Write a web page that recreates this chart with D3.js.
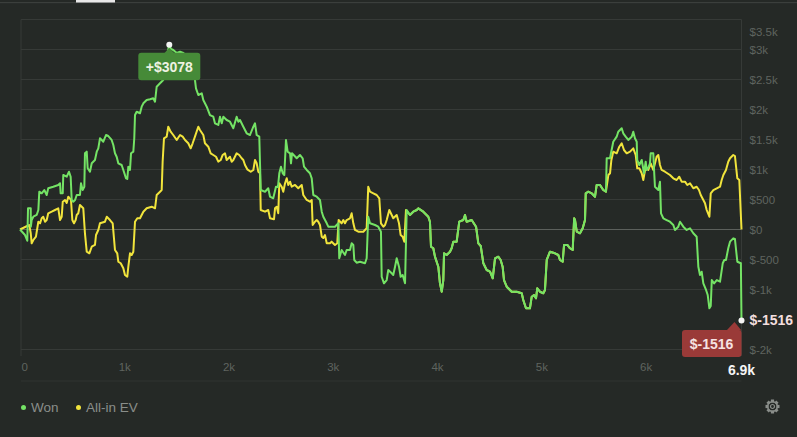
<!DOCTYPE html>
<html><head><meta charset="utf-8">
<script src="https://cdn.jsdelivr.net/npm/d3@7"></script>
<style>
html,body{margin:0;padding:0;background:#252926;}
svg{display:block;font-family:"Liberation Sans",Arial,sans-serif;}
</style></head>
<body><svg id="c" width="797" height="437"></svg>
<script>
const wonHands = [0,48,70,77,103,104,112,128,160,176,185,208,233,256,271,319,367,384,390,410,415,448,470,486,496,511,528,544,575,585,601,617,623,640,649,671,688,719,736,751,767,784,799,825,847,879,895,911,927,943,975,991,1017,1029,1039,1055,1065,1087,1096,1103,1119,1151,1167,1183,1215,1247,1278,1295,1311,1343,1374,1391,1410,1432,1448,1470,1503,1535,1560,1592,1630,1669,1678,1688,1710,1743,1758,1791,1822,1854,1870,1902,1918,1935,1950,1982,2014,2046,2078,2094,2110,2142,2174,2206,2238,2254,2270,2295,2309,2350,2381,2398,2429,2455,2474,2487,2503,2520,2535,2551,2567,2590,2599,2609,2654,2685,2711,2724,2750,2781,2798,2813,2846,2877,2894,2909,2942,2957,3021,3053,3062,3085,3117,3133,3165,3181,3197,3206,3229,3261,3309,3325,3340,3357,3405,3436,3462,3469,3491,3517,3532,3565,3580,3597,3613,3635,3651,3670,3693,3709,3740,3772,3805,3820,3868,3916,3932,3942,3964,3980,4012,4028,4045,4060,4067,4092,4124,4140,4156,4188,4213,4252,4268,4284,4332,4374,4396,4419,4444,4476,4508,4534,4556,4587,4610,4629,4642,4668,4716,4764,4812,4827,4853,4891,4908,4930,4949,4961,4987,5019,5035,5052,5083,5131,5163,5179,5205,5218,5250,5275,5301,5315,5323,5340,5371,5397,5419,5426,5451,5483,5515,5531,5563,5594,5620,5627,5659,5668,5684,5690,5723,5738,5771,5786,5809,5834,5867,5882,5898,5915,5920,5940,5963,5985,6001,6011,6026,6042,6049,6074,6083,6090,6122,6138,6148,6170,6202,6234,6266,6282,6314,6330,6362,6394,6426,6458,6490,6506,6522,6538,6554,6580,6596,6612,6625,6635,6657,6683,6714,6740,6755,6771,6793,6810,6841,6857,6880,6914,6920];
const wonValues = [0,-92,-187,353,353,47,158,213,242,325,630,603,658,575,687,713,742,770,603,603,908,880,963,880,492,463,492,575,575,770,658,713,1270,1297,1020,963,1103,1158,1297,1353,1520,1492,1463,1575,1558,1492,1408,1270,1213,1103,1075,992,853,842,1047,992,1270,1297,1520,1908,1963,1937,2047,2103,2158,2170,2187,2130,2380,2437,2492,2742,2908,3078,3008,2992,2942,2963,2947,2908,2825,2658,2492,2353,2242,2270,2158,2047,1908,1880,1770,1742,1880,1770,1880,1825,1797,1687,1880,1797,1825,1713,1603,1575,1713,1770,1575,1547,658,630,687,547,520,713,708,937,1047,937,908,1492,1297,1270,1103,1270,1187,1242,1187,1047,992,937,853,575,547,492,297,213,103,47,47,103,-480,-342,-425,-342,-342,-230,-258,-508,-553,-537,-563,-480,213,103,75,47,-37,-787,-897,-842,-675,-730,-758,-620,-480,-620,-787,-758,-897,325,242,297,325,353,297,213,130,-287,-313,-453,-620,-897,-1037,-842,-397,-425,-370,-313,-203,-203,130,158,242,130,158,47,-230,-275,-563,-675,-703,-813,-480,-453,-508,-620,-842,-953,-1037,-1037,-1063,-1175,-1313,-1313,-1120,-1092,-1147,-980,-1037,-1063,-1008,-508,-370,-397,-425,-508,-537,-258,-258,-313,-342,187,158,-37,-63,20,158,603,630,603,547,742,742,658,630,1187,1187,1270,1408,1463,1547,1630,1687,1603,1547,1492,1547,1630,1520,1463,1158,1075,1158,937,1130,992,1025,1103,1270,1270,937,713,658,797,270,187,158,130,75,-8,47,130,47,-8,20,-63,-120,-620,-758,-703,-897,-1008,-1092,-1313,-1275,-842,-897,-842,-870,-563,-508,-508,-313,-203,-147,-158,-537,-563,-1516];

const evHands = [0,89,103,112,128,153,176,192,208,223,240,256,271,304,336,367,384,400,410,432,448,463,489,502,518,534,544,559,575,607,623,640,665,688,719,729,751,767,815,832,863,889,911,933,943,966,991,1007,1029,1039,1055,1071,1087,1103,1125,1151,1167,1183,1215,1263,1295,1311,1343,1359,1368,1381,1407,1422,1445,1470,1503,1535,1560,1583,1614,1637,1656,1678,1710,1726,1758,1774,1806,1829,1854,1880,1902,1925,1944,1966,1982,2014,2030,2046,2078,2103,2126,2142,2158,2180,2213,2238,2254,2270,2286,2302,2309,2350,2381,2398,2436,2446,2462,2477,2487,2510,2525,2542,2558,2573,2590,2606,2638,2669,2702,2717,2750,2781,2798,2807,2829,2846,2861,2877,2894,2909,2925,2942,2973,2989,3021,3043,3056,3085,3101,3117,3133,3165,3181,3197,3213,3245,3293,3325,3340,3357,3389,3421,3446,3462,3485,3501,3517,3542,3565,3580,3613,3635,3651,3670,3686,3702,3740,3772,3805,3820,3868,3916,3932,3942,3964,3980,4012,4028,4045,4060,4067,4092,4124,4140,4156,4188,4213,4252,4268,4284,4332,4374,4396,4419,4444,4476,4508,4534,4556,4587,4610,4629,4642,4668,4716,4764,4812,4827,4853,4891,4908,4930,4949,4961,4987,5019,5035,5052,5083,5131,5163,5179,5205,5218,5250,5275,5301,5315,5323,5340,5371,5397,5419,5426,5451,5483,5515,5531,5563,5594,5620,5643,5659,5672,5690,5723,5748,5771,5793,5819,5851,5882,5905,5920,5940,5963,5978,6001,6026,6049,6074,6106,6122,6138,6154,6186,6234,6266,6298,6323,6346,6378,6400,6426,6458,6490,6512,6529,6554,6570,6586,6612,6625,6650,6683,6714,6730,6746,6771,6793,6810,6841,6857,6880,6899,6920];
const evValues = [0,75,-63,-230,-175,-120,130,103,187,213,130,158,270,297,325,353,158,213,463,492,442,547,492,158,103,158,242,270,408,353,-63,-370,-397,-287,-258,-92,-8,103,130,213,158,103,-342,-397,-537,-563,-647,-758,-787,-620,-397,-425,-370,130,187,187,242,297,353,380,353,575,630,658,1130,1520,1547,1713,1630,1575,1492,1575,1547,1492,1437,1353,1437,1547,1713,1658,1575,1437,1380,1270,1242,1213,1130,1158,1242,1270,1158,1213,1130,1158,1270,1242,1187,1158,1075,1003,963,992,1158,1103,963,937,325,297,325,187,170,353,380,270,770,713,630,770,853,742,797,713,742,687,742,575,492,463,492,75,130,158,130,75,-120,-142,-92,-230,-230,-203,-258,-230,158,103,158,103,158,187,270,103,-8,-37,-37,20,713,630,603,575,520,103,47,75,158,325,242,187,242,103,-92,-120,-203,325,242,297,325,353,297,213,130,-287,-313,-453,-620,-897,-1037,-842,-397,-425,-370,-313,-203,-203,130,158,242,130,158,47,-230,-275,-563,-675,-703,-813,-480,-453,-508,-620,-842,-953,-1037,-1037,-1063,-1175,-1313,-1313,-1120,-1092,-1147,-980,-1037,-1063,-1008,-508,-370,-397,-425,-508,-537,-258,-258,-313,-342,187,158,-37,-63,20,158,603,630,603,547,742,742,658,630,908,937,1158,1297,1270,1380,1437,1325,1270,1297,1353,1242,1020,1020,937,825,1047,992,1103,992,1213,1242,1075,992,963,908,853,825,880,797,797,742,770,687,713,658,575,492,437,325,213,603,658,687,713,825,908,992,1130,1187,1242,1225,853,825,0];

const yTickValues = [3500,3000,2500,2000,1500,1000,500,0,-500,-1000,-2000];
const yTickLabels = ["$3.5k","$3k","$2.5k","$2k","$1.5k","$1k","$500","$0","$-500","$-1k","$-2k"];
const xTickValues = [0,1000,2000,3000,4000,5000,6000];
const xTickLabels = ["0","1k","2k","3k","4k","5k","6k"];
const seriesNames = ["Won","All-in EV"];
const seriesColors = ["#74e365","#f1e43c"];
const totalHands = 6920;
const peakLabel = "+$3078";
const endLabel = "$-1516";
const endHandsLabel = "6.9k";

const svg = d3.select("#c");
const W = 797, H = 437;
const L = 21, R = 741.5, T = 19.5;
const x = d3.scaleLinear().domain([0,totalHands]).range([20,R]);
const y = d3.scaleLinear().domain([-2000,3500]).range([349.5,T]);

// top tab bar
svg.append("rect").attr("x",0).attr("y",2).attr("width",W).attr("height",1.2).attr("fill","#3b3f3c");
svg.append("rect").attr("x",76).attr("y",0).attr("width",39).attr("height",2.5).attr("fill","#e8e8e8");

// gridlines
svg.append("g").selectAll("line").data(yTickValues).join("line")
  .attr("x1",L).attr("x2",R).attr("y1",d=>y(d)).attr("y2",d=>y(d))
  .attr("stroke",d=>d===0?"#5c605c":"#363a37").attr("stroke-width",1);
// frame verticals
svg.append("line").attr("x1",L).attr("x2",L).attr("y1",T).attr("y2",356).attr("stroke","#363a37");
svg.append("line").attr("x1",R).attr("x2",R).attr("y1",T).attr("y2",356).attr("stroke","#363a37");
// bottom axis line
svg.append("line").attr("x1",L).attr("x2",R).attr("y1",381).attr("y2",381).attr("stroke","#303431");

// y axis (right)
const yAxis = d3.axisRight(y).tickValues(yTickValues).tickSize(0).tickPadding(0)
  .tickFormat((d,i)=>yTickLabels[i]);
const ya = svg.append("g").attr("transform",`translate(749.5,0)`).call(yAxis);
ya.select(".domain").remove();
ya.selectAll("text").attr("fill","#5f645f").attr("font-size","11.5px").attr("font-family","Liberation Sans, Arial, sans-serif");
ya.selectAll(".tick").filter(d=>d===3500).select("text").attr("dy","1.4em");

// x axis
const xAxis = d3.axisBottom(x).tickValues(xTickValues).tickSize(0).tickPadding(0)
  .tickFormat((d,i)=>xTickLabels[i]);
const xa = svg.append("g").attr("transform",`translate(0,363)`).call(xAxis);
xa.select(".domain").remove();
xa.selectAll("text").attr("fill","#5f645f").attr("font-size","11.5px").attr("font-family","Liberation Sans, Arial, sans-serif");
xa.selectAll(".tick").filter(d=>d===0).select("text").attr("text-anchor","start").attr("x",1);
svg.append("text").attr("x",x(totalHands)).attr("y",375).attr("text-anchor","middle")
  .attr("fill","#f4f4f4").attr("font-weight","bold").attr("font-size","14px").text(endHandsLabel);

// lines
const line = d3.line().x(d=>x(d[0])).y(d=>y(d[1]));
const evData = evHands.map((h,i)=>[h,evValues[i]]);
const wonData = wonHands.map((h,i)=>[h,wonValues[i]]);
svg.append("path").datum(evData).attr("d",line).attr("fill","none").attr("stroke",seriesColors[1]).attr("stroke-width",2).attr("stroke-linejoin","round");
svg.append("path").datum(wonData).attr("d",line).attr("fill","none").attr("stroke",seriesColors[0]).attr("stroke-width",2).attr("stroke-linejoin","round");

// peak tooltip
const pk = wonData.reduce((a,b)=>b[1]>a[1]?b:a);
const px = x(pk[0]), py = y(pk[1]);
const g1 = svg.append("g");
g1.append("rect").attr("x",px-31).attr("y",py+8).attr("width",62).attr("height",27.5).attr("rx",3).attr("fill","#468a38");
g1.append("path").attr("d",`M${px-5},${py+8.5}L${px},${py+3}L${px+5},${py+8.5}Z`).attr("fill","#468a38");
g1.append("text").attr("x",px).attr("y",py+27).attr("text-anchor","middle").attr("fill","#eef2e2")
  .attr("font-weight","bold").attr("font-size","14px").text(peakLabel);
svg.append("circle").attr("cx",px).attr("cy",py).attr("r",3).attr("fill","#f4f4f4");

// end tooltip
const en = wonData[wonData.length-1];
const ex = x(en[0]), ey = y(en[1]);
const g2 = svg.append("g");
g2.append("rect").attr("x",ex-59.5).attr("y",ey+9.5).attr("width",59.5).attr("height",27).attr("rx",3).attr("fill","#9a3a38");
g2.append("path").attr("d",`M${ex-15},${ey+10}L${ex-7},${ey+1.5}L${ex},${ey+10}Z`).attr("fill","#9a3a38");
g2.append("text").attr("x",ex-30).attr("y",ey+28.5).attr("text-anchor","middle").attr("fill","#f6e2e2")
  .attr("font-weight","bold").attr("font-size","14px").text(endLabel);
svg.append("circle").attr("cx",ex).attr("cy",ey).attr("r",3).attr("fill","#f4f4f4");
svg.append("text").attr("x",749.5).attr("y",ey+5).attr("fill","#f3dede").attr("font-weight","bold")
  .attr("font-size","14px").text(endLabel);

// legend
const lg = svg.append("g").attr("transform","translate(23.5,407.5)");
const offs = [0,55];
seriesNames.forEach((n,i)=>{
  lg.append("circle").attr("cx",offs[i]).attr("cy",0).attr("r",2.5).attr("fill",seriesColors[i]);
  lg.append("text").attr("x",offs[i]+7.5).attr("y",4.8).attr("fill","#8a8e8a").attr("font-size","13.5px").text(n);
});

// gear icon
const gx = 772.5, gy = 406.5;
const gear = svg.append("g").attr("transform",`translate(${gx},${gy})`);
const teeth = d3.range(8);
gear.selectAll("rect").data(teeth).join("rect")
  .attr("x",-1.6).attr("y",-7).attr("width",3.2).attr("height",3)
  .attr("transform",d=>`rotate(${d*45})`).attr("fill","#8a8e8a");
gear.append("circle").attr("r",4.8).attr("fill","none").attr("stroke","#8a8e8a").attr("stroke-width",1.5);
gear.append("circle").attr("r",2).attr("fill","none").attr("stroke","#8a8e8a").attr("stroke-width",1.2);
</script></body></html>
